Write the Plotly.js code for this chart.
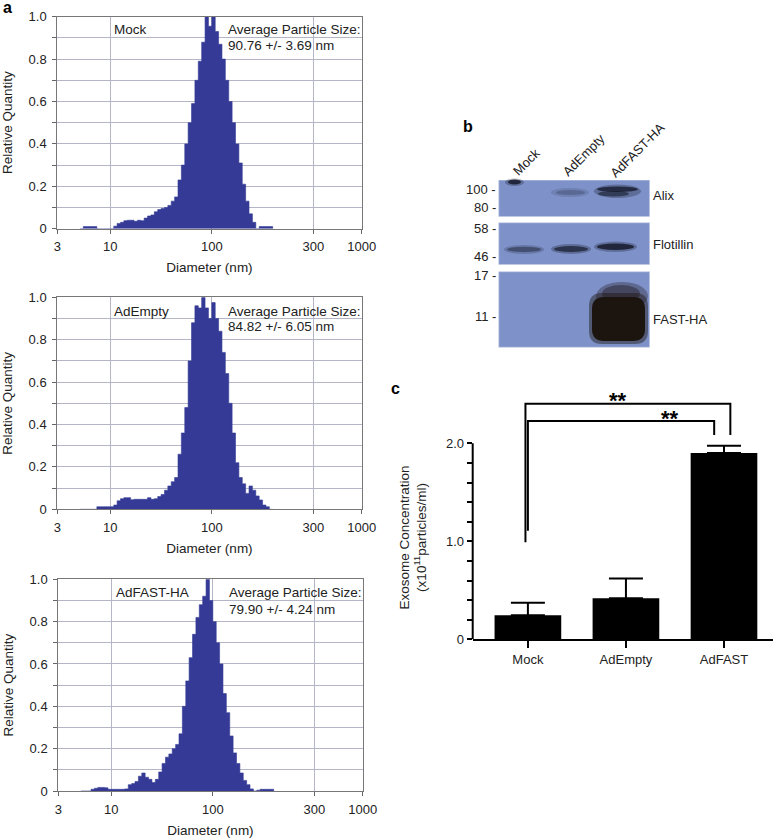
<!DOCTYPE html>
<html>
<head>
<meta charset="utf-8">
<script src="https://cdn.plot.ly/plotly-3.0.1.min.js"></script>
<style>html,body{margin:0;padding:0;background:#fff;}#chart{width:776px;height:840px;}</style>
</head>
<body>
<div id="chart"></div>
<script>
// ---------- DATA ----------
// Histogram bin edges (diameter, nm) shared by the three size distributions
const binEdges = [5.01,5.41,5.84,6.31,6.81,7.36,7.94,8.58,9.26,10.0,10.8,11.66,12.59,13.59,14.68,15.85,17.11,18.48,19.95,21.54,23.26,25.12,27.12,29.29,31.62,34.15,36.87,39.81,42.98,46.42,50.12,54.12,58.43,63.1,68.13,73.56,79.43,85.77,92.61,100,108,116.6,125.9,135.9,146.8,158.5,171.1,184.8,199.5,215.4,232.6,251.2,271.3,292.9,316.2,341.5,368.7,398.1];
// Relative quantity per bin (last entry closes the histogram)
const mockQty = [0,0.01,0.01,0.01,0.01,0,0,0,0,0,
  0.012,0.025,0.03,0.038,0.04,0.04,0.035,0.04,0.038,0.05,
  0.06,0.065,0.08,0.09,0.095,0.10,0.11,0.13,0.15,0.23,
  0.30,0.40,0.50,0.59,0.70,0.79,0.88,1.0,0.955,1.0,
  0.93,0.87,0.80,0.70,0.60,0.50,0.40,0.31,0.21,0.13,
  0.07,0.03,0,0.01,0.01,0.01,0.01,0];
const adEmptyQty = [0,0,0,0,0,0.012,0.012,0.012,0.012,0.012,
  0.02,0.04,0.05,0.055,0.055,0.045,0.047,0.047,0.047,0.047,
  0.055,0.047,0.05,0.06,0.07,0.09,0.11,0.13,0.15,0.26,
  0.36,0.48,0.70,0.88,0.96,0.95,1.0,0.95,0.90,0.975,
  0.90,0.84,0.74,0.64,0.50,0.36,0.22,0.15,0.12,0.075,
  0.11,0.09,0.063,0.044,0.02,0.012,0,0];
const adFastQty = [0,0,0,0.008,0.013,0.017,0.017,0.015,0.008,0.008,
  0.008,0.008,0.008,0.01,0.03,0.035,0.045,0.07,0.085,0.065,
  0.055,0.04,0.055,0.09,0.13,0.16,0.175,0.20,0.22,0.27,
  0.40,0.52,0.63,0.74,0.82,0.88,0.92,1.0,0.90,0.80,
  0.70,0.60,0.46,0.37,0.26,0.18,0.13,0.085,0.05,0.03,
  0.01,0,0.004,0.008,0.008,0.008,0.008,0];
const histNames = ['Mock','AdEmpty','AdFAST-HA'];
const avgSize = ['90.76 +/- 3.69 nm','84.82 +/- 6.05 nm','79.90 +/- 4.24 nm'];
const sizeTickVals = [3,10,100,1000,3000];
const sizeTickText = ['3','10','100','300','1000'];
const qtyTickVals = [0,0.1,0.2,0.3,0.4,0.5,0.6,0.7,0.8,0.9,1.0];
const qtyTickText = ['0','','0.2','','0.4','','0.6','','0.8','','1.0'];

// Panel c: exosome concentration (x10^11 particles/ml)
const groups = ['Mock','AdEmpty','AdFAST'];
const groupPos = [0,1,2];
const concMean = [0.245,0.42,1.90];
const concSem = [0.128,0.20,0.076];
const concTickVals = [0,0.2,0.4,0.6,0.8,1.0,1.2,1.4,1.6,1.8,2.0];
const concTickText = ['0','','','','','1.0','','','','','2.0'];
// significance brackets (x in group units, y in concentration units)
const bracket1X = [-0.025,-0.025,2.065,2.065];
const bracket1Y = [0.99,2.404,2.404,2.085];
const bracket2X = [0,0,1.9,1.9];
const bracket2Y = [1.108,2.228,2.228,2.085];

// Western blot labels
const laneLabels = ['Mock','AdEmpty','AdFAST-HA'];
const mwLabels = ['100 -','80 -','58 -','46 -','17 -','11 -'];
const blotTargets = ['Alix','Flotillin','FAST-HA'];

// ---------- LAYOUT HELPERS ----------
const W = 776, H = 840;
const px = x => x / W;
const py = y => 1 - y / H;
const FONT = 'Arial, "Liberation Sans", sans-serif';
const NAVY = '#343a96';
const TXT = '#222';

function ann(text, x, y, o) {
  o = o || {};
  return Object.assign({
    text: text, x: px(x), y: py(y), xref: 'paper', yref: 'paper',
    xanchor: o.xa || 'left', yanchor: o.ya || 'middle', showarrow: false,
    font: {family: FONT, size: o.size || 13.5, color: o.color || TXT}
  }, o.extra || {});
}

// ---------- TRACES ----------
const qtys = [mockQty, adEmptyQty, adFastQty];
const traces = [];
qtys.forEach((q, i) => {
  const s = i === 0 ? '' : String(i + 1);
  traces.push({
    type: 'scatter', mode: 'lines', x: binEdges, y: q,
    line: {shape: 'hv', color: NAVY, width: 0.6},
    fill: 'tozeroy', fillcolor: NAVY,
    xaxis: 'x' + s, yaxis: 'y' + s, hoverinfo: 'skip', showlegend: false
  });
});
traces.push({
  type: 'bar', x: groupPos, y: concMean, width: 0.68,
  marker: {color: '#000', line: {width: 0}},
  error_y: {type: 'data', array: concSem, arrayminus: [0,0,0], symmetric: false,
            color: '#000', thickness: 2, width: 17},
  xaxis: 'x4', yaxis: 'y4', showlegend: false
});
[[bracket1X, bracket1Y], [bracket2X, bracket2Y]].forEach(b => {
  traces.push({type: 'scatter', mode: 'lines', x: b[0], y: b[1],
    line: {color: '#000', width: 2}, xaxis: 'x4', yaxis: 'y4', showlegend: false, hoverinfo: 'skip'});
});

// ---------- AXES ----------
const histY = [[16.7, 228.7], [297.3, 509.3], [579.3, 791]];
const histX = [[57.3, 361.7], [57.3, 361.7], [58.3, 362.7]];
const layout = {
  width: W, height: H, margin: {l: 0, r: 0, t: 0, b: 0},
  paper_bgcolor: '#fff', plot_bgcolor: '#fff', showlegend: false,
  font: {family: FONT, size: 13, color: TXT},
  annotations: [], shapes: []
};
histY.forEach((yy, i) => {
  const s = i === 0 ? '' : String(i + 1);
  layout['xaxis' + s] = {
    type: 'log', range: [Math.log10(3), Math.log10(3000)],
    domain: [px(histX[i][0]), px(histX[i][1])],
    anchor: 'y' + s, tickvals: sizeTickVals, ticktext: sizeTickText,
    ticks: 'outside', ticklen: 4, tickcolor: '#666', ticklabelstandoff: 2,
    showgrid: true, gridcolor: '#b4b6c8', gridwidth: 1,
    showline: true, linecolor: '#777', linewidth: 1, mirror: true,
    tickfont: {family: FONT, size: 13, color: TXT},
    title: {text: 'Diameter (nm)', font: {family: FONT, size: 13.5, color: TXT}, standoff: 9},
    zeroline: false
  };
  layout['yaxis' + s] = {
    range: [0, 1], domain: [py(yy[1]), py(yy[0])], anchor: 'x' + s,
    tickvals: qtyTickVals, ticktext: qtyTickText,
    ticks: 'outside', ticklen: 4, tickcolor: '#666', ticklabelstandoff: 3,
    showgrid: true, gridcolor: '#b4b6c8', gridwidth: 1,
    showline: true, linecolor: '#777', linewidth: 1, mirror: true,
    tickfont: {family: FONT, size: 13, color: TXT},
    title: {text: 'Relative Quantity', font: {family: FONT, size: 13.5, color: TXT}, standoff: 12},
    zeroline: false
  };
  layout.annotations.push(ann(histNames[i], (i === 2 ? 114 : 112), [30, 311.7, 592.3][i]));
  layout.annotations.push(ann('Average Particle Size:', (i === 2 ? 227.3 : 225.7), [30, 311.7, 592.3][i]));
  layout.annotations.push(ann(avgSize[i], (i === 2 ? 227.3 : 225.7), [45.7, 326.7, 609][i]));
});

layout.xaxis4 = {
  range: [-0.563, 2.5], domain: [px(472.7), px(773)], anchor: 'y4',
  tickvals: groupPos, ticktext: groups, ticks: 'outside', ticklen: 7, tickwidth: 2, tickcolor: '#000',
  showline: true, linecolor: '#000', linewidth: 2, showgrid: false, zeroline: false,
  tickfont: {family: FONT, size: 13, color: TXT}
};
layout.yaxis4 = {
  range: [0, 2.5], domain: [py(639.3), py(639.3 - 2.5 * 98)], anchor: 'x4',
  tickvals: concTickVals, ticktext: concTickText, ticks: 'outside', ticklen: 5, tickwidth: 2, tickcolor: '#000',
  showline: false, showgrid: false, zeroline: false,
  tickfont: {family: FONT, size: 13, color: TXT}
};
layout.shapes.push({type: 'line', xref: 'x4 domain', yref: 'y4', x0: 0, x1: 0, y0: 0, y1: 2.0,
  line: {color: '#000', width: 2}});
// y title of panel c (centred on the 0–2.0 axis line)
layout.annotations.push(ann('Exosome Concentration<br>(x10<sup>11</sup>particles/ml)', 412.5, 538,
  {xa: 'center', size: 13.5, extra: {textangle: -90}}));

// panel letters
layout.annotations.push(ann('<b>a</b>', 1, 8, {size: 16, color: '#000'}));
layout.annotations.push(ann('<b>b</b>', 461, 126, {size: 16, color: '#000'}));
layout.annotations.push(ann('<b>c</b>', 389, 388, {size: 16, color: '#000'}));
// stars
layout.annotations.push(ann('<b>**</b>', 618.3, 400, {xa: 'center', size: 22, color: '#000'}));
layout.annotations.push(ann('<b>**</b>', 670, 418.5, {xa: 'center', size: 22, color: '#000'}));

// ---------- WESTERN BLOT (drawn picture) ----------
const BLOT = '#7e92c9';
function rectPx(x0, y0, x1, y1, color, op) {
  return {type: 'rect', xref: 'paper', yref: 'paper', x0: px(x0), x1: px(x1), y0: py(y1), y1: py(y0),
    fillcolor: color, opacity: op == null ? 1 : op, line: {width: 0}, layer: 'above'};
}
function ellPx(x0, y0, x1, y1, color, op) {
  return {type: 'circle', xref: 'paper', yref: 'paper', x0: px(x0), x1: px(x1), y0: py(y1), y1: py(y0),
    fillcolor: color, opacity: op, line: {width: 0}, layer: 'above'};
}
function rrectPx(x0, y0, x1, y1, r, color, op) {
  const X = v => px(v).toFixed(5), Y = v => py(v).toFixed(5);
  const p = 'M' + X(x0 + r) + ',' + Y(y0) + ' L' + X(x1 - r) + ',' + Y(y0) +
    ' Q' + X(x1) + ',' + Y(y0) + ' ' + X(x1) + ',' + Y(y0 + r) +
    ' L' + X(x1) + ',' + Y(y1 - r) + ' Q' + X(x1) + ',' + Y(y1) + ' ' + X(x1 - r) + ',' + Y(y1) +
    ' L' + X(x0 + r) + ',' + Y(y1) + ' Q' + X(x0) + ',' + Y(y1) + ' ' + X(x0) + ',' + Y(y1 - r) +
    ' L' + X(x0) + ',' + Y(y0 + r) + ' Q' + X(x0) + ',' + Y(y0) + ' ' + X(x0 + r) + ',' + Y(y0) + ' Z';
  return {type: 'path', xref: 'paper', yref: 'paper', path: p, fillcolor: color, opacity: op,
    line: {width: 0}, layer: 'above'};
}
const blotPanels = [[499.3, 180.7, 649, 216], [499.3, 223.3, 649, 264], [499.3, 272.3, 649, 346.7]];
blotPanels.forEach(b => {
  layout.shapes.push(rectPx(b[0] - 0.8, b[1] - 0.8, b[2] + 0.8, b[3] + 0.8, '#aab6da', 1));
  layout.shapes.push(rectPx(b[0], b[1], b[2], b[3], BLOT, 1));
});
const DARK = '#161a2c';
// Alix
layout.shapes.push(ellPx(505, 178.5, 524, 186, DARK, 0.3));
layout.shapes.push(ellPx(508, 179.5, 521, 184.5, DARK, 0.85));
layout.shapes.push(ellPx(551, 188, 589, 197, '#2b3150', 0.18));
layout.shapes.push(ellPx(556, 190, 585, 195, '#2b3150', 0.3));
layout.shapes.push(ellPx(594, 184.5, 641, 198, DARK, 0.3));
layout.shapes.push(ellPx(597, 186.5, 638, 192, DARK, 0.8));
layout.shapes.push(ellPx(598, 191, 629, 196.5, DARK, 0.6));
// Flotillin
layout.shapes.push(ellPx(504, 245, 544, 254, DARK, 0.2));
layout.shapes.push(ellPx(507, 246.8, 541, 252, DARK, 0.45));
layout.shapes.push(ellPx(551, 244, 591, 254, DARK, 0.3));
layout.shapes.push(ellPx(554, 246, 588, 252, DARK, 0.7));
layout.shapes.push(ellPx(594, 241.5, 637, 252, DARK, 0.3));
layout.shapes.push(ellPx(597, 243.5, 634, 250, DARK, 0.85));
// FAST-HA
layout.shapes.push(ellPx(596, 282, 648, 310, '#241c24', 0.35));
layout.shapes.push(ellPx(602, 285, 640, 302, '#241c24', 0.45));
layout.shapes.push(rrectPx(589, 293, 648, 344, 13, '#1c140f', 0.45));
layout.shapes.push(rrectPx(592, 297, 645, 341, 12, '#1c140f', 1));

// blot labels
const mwY = [190, 207.3, 228.3, 256, 276, 316.7];
mwLabels.forEach((t, i) => layout.annotations.push(ann(t, 497.5, mwY[i], {xa: 'right', size: 13})));
const tgtY = [195, 244, 319];
blotTargets.forEach((t, i) => layout.annotations.push(ann(t, 651, tgtY[i], {size: 13})));
const laneC = [[527, 162], [583, 155], [637, 150]];
laneLabels.forEach((t, i) => layout.annotations.push(ann(t, laneC[i][0], laneC[i][1],
  {xa: 'center', ya: 'middle', size: 13, extra: {textangle: -45}})));

Plotly.newPlot('chart', traces, layout, {staticPlot: true, displayModeBar: false});
</script>
</body>
</html>
